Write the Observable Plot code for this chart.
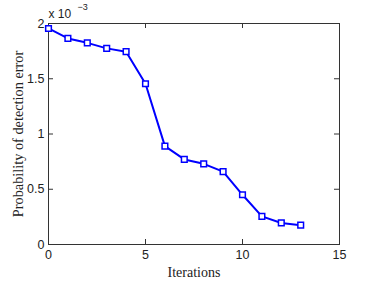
<!DOCTYPE html>
<html>
<head>
<meta charset="utf-8">
<script src="https://cdn.jsdelivr.net/npm/d3@7"></script>
<script src="https://cdn.jsdelivr.net/npm/@observablehq/plot@0.6"></script>
<style>
  html, body { margin: 0; padding: 0; background: #fff; }
  #chart { width: 374px; height: 281px; }
</style>
</head>
<body>
<div id="chart"></div>
<script>
const iterations = [0, 1, 2, 3, 4, 5, 6, 7, 8, 9, 10, 11, 12, 13];
const errorE3 = [1.955, 1.865, 1.825, 1.775, 1.745, 1.455, 0.89, 0.77, 0.73, 0.66, 0.45, 0.255, 0.195, 0.175];
const xTicks = [0, 5, 10, 15];
const yTicks = [0, 0.5, 1, 1.5, 2];
const yTickLabels = ["0", "0.5", "1", "1.5", "2"];
const xLabel = "Iterations";
const yLabel = "Probability of detection error";
const exponentBase = "x 10";
const exponent = "\u22123";

const data = iterations.map((it, i) => ({ it, v: errorE3[i] }));

const W = 374, H = 281;
const mL = 48, mR = 35, mT = 23, mB = 37;
const plotW = W - mL - mR, plotH = H - mT - mB;
const tickLen = 5;
const axisColor = "#333";
const sans = "Liberation Sans, Arial, Helvetica, sans-serif";
const serif = "Liberation Serif, Times New Roman, serif";

const chart = Plot.plot({
  width: W,
  height: H,
  marginLeft: mL,
  marginRight: mR,
  marginTop: mT,
  marginBottom: mB,
  style: { fontFamily: sans, fontSize: "12px", color: "#222", background: "#fff" },
  x: { domain: [0, 15] },
  y: { domain: [0, 2] },
  marks: [
    Plot.frame({ stroke: axisColor, strokeWidth: 1 }),
    // inward ticks, bottom & top
    Plot.tickX(xTicks, { x: d => d, stroke: axisColor, insetTop: plotH - tickLen }),
    Plot.tickX(xTicks, { x: d => d, stroke: axisColor, insetBottom: plotH - tickLen }),
    // inward ticks, left & right
    Plot.tickY(yTicks, { y: d => d, stroke: axisColor, insetRight: plotW - tickLen }),
    Plot.tickY(yTicks, { y: d => d, stroke: axisColor, insetLeft: plotW - tickLen }),
    Plot.axisX({ ticks: xTicks, tickSize: 0, tickPadding: 6, label: null, fontSize: 12.5 }),
    Plot.axisY({ ticks: yTicks, tickSize: 0, tickPadding: 4, label: null, fontSize: 12.5,
      tickFormat: d => yTickLabels[yTicks.indexOf(d)] }),
    Plot.line(data, { x: "it", y: "v", stroke: "#0000ff", strokeWidth: 2 }),
    Plot.dot(data, { x: "it", y: "v", symbol: "square", r: 3.2, stroke: "#0000ff", fill: "white", strokeWidth: 1.5 }),
    Plot.text([xLabel], { frameAnchor: "bottom", dy: 28.5, lineAnchor: "middle", textAnchor: "middle", text: d => d, fontFamily: serif, fontSize: 14, fill: "#222" }),
    Plot.text([yLabel], { frameAnchor: "left", dx: -30, rotate: -90, lineAnchor: "middle", textAnchor: "middle", text: d => d, fontFamily: serif, fontSize: 14.3, fill: "#222" }),
    Plot.text([exponentBase], { frameAnchor: "top-left", dy: -9.5, dx: 0, lineAnchor: "middle", textAnchor: "start", text: d => d, fontFamily: sans, fontSize: 12, fill: "#222" }),
    Plot.text([exponent], { frameAnchor: "top-left", dy: -16.5, dx: 29, lineAnchor: "middle", textAnchor: "start", text: d => d, fontFamily: sans, fontSize: 9, fill: "#222" })
  ]
});
document.getElementById("chart").appendChild(chart);
</script>
</body>
</html>
